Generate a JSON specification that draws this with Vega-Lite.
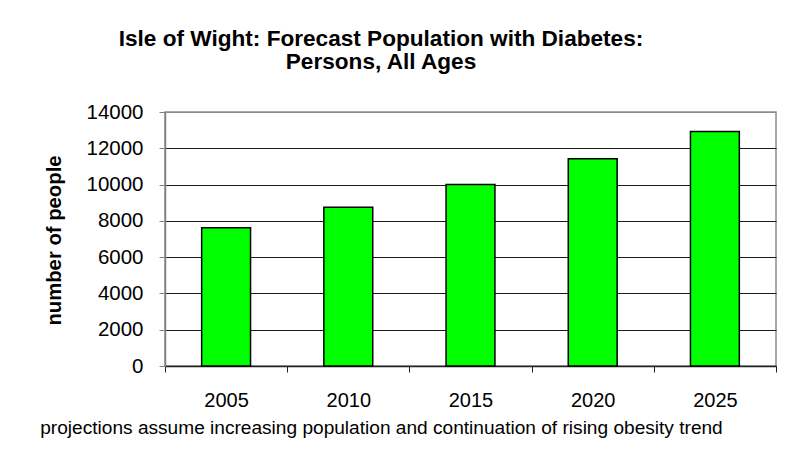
{
  "$schema": "https://vega.github.io/schema/vega-lite/v6.json",
  "autosize": {"type": "none"},
  "padding": {"left": 165, "top": 112, "right": 17, "bottom": 98},
  "width": 611,
  "height": 254,
  "background": "white",
  "config": {
    "font": "Liberation Sans",
    "view": {"stroke": "#8c8c8c", "strokeWidth": 1.5}
  },
  "title": {
    "text": ["Isle of Wight: Forecast Population with Diabetes:", "Persons, All Ages"],
    "anchor": "middle",
    "frame": "group",
    "dx": -89.5,
    "fontSize": 22.6,
    "fontWeight": "bold",
    "lineHeight": 23,
    "color": "black",
    "offset": 28
  },
  "data": {
    "values": [
      {"year": "2005", "people": 7620},
      {"year": "2010", "people": 8750},
      {"year": "2015", "people": 10010},
      {"year": "2020", "people": 11430},
      {"year": "2025", "people": 12930}
    ]
  },
  "mark": {"type": "bar", "color": "#00ff00", "stroke": "black", "strokeWidth": 1.5, "width": {"band": 0.4}},
  "encoding": {
    "x": {
      "field": "year",
      "type": "ordinal",
      "scale": {"paddingInner": 0, "paddingOuter": 0},
      "axis": {
        "title": "projections assume increasing population and continuation of rising obesity trend",
        "titleFontSize": 19.1,
        "titleFontWeight": "normal",
        "titleColor": "black",
        "titleX": 216,
        "titleY": 67,
        "titleAlign": "center",
        "titleBaseline": "alphabetic",
        "labelAngle": 0,
        "labelFontSize": 20,
        "labelColor": "black",
        "labelPadding": 18.5,
        "tickBand": "extent",
        "tickSize": 6,
        "tickColor": "#222222",
        "domainColor": "#222222",
        "domainWidth": 1.5,
        "grid": false
      }
    },
    "y": {
      "field": "people",
      "type": "quantitative",
      "scale": {"domain": [0, 14000], "nice": false},
      "axis": {
        "title": "number of people",
        "titleFontSize": 20.3,
        "titleFontWeight": "bold",
        "titleColor": "black",
        "titleX": -111,
        "titleY": 128,
        "titleAngle": -90,
        "titleAlign": "center",
        "titleBaseline": "middle",
        "values": [0, 2000, 4000, 6000, 8000, 10000, 12000, 14000],
        "format": "d",
        "labelFontSize": 20.5,
        "labelColor": "black",
        "labelPadding": 16,
        "tickSize": 6,
        "tickColor": "#808080",
        "domainColor": "#808080",
        "domainWidth": 1.5,
        "grid": true,
        "gridColor": {"condition": {"test": "datum.value === 14000", "value": "#8c8c8c"}, "value": "#1a1a1a"},
        "gridWidth": 1.2
      }
    }
  }
}
